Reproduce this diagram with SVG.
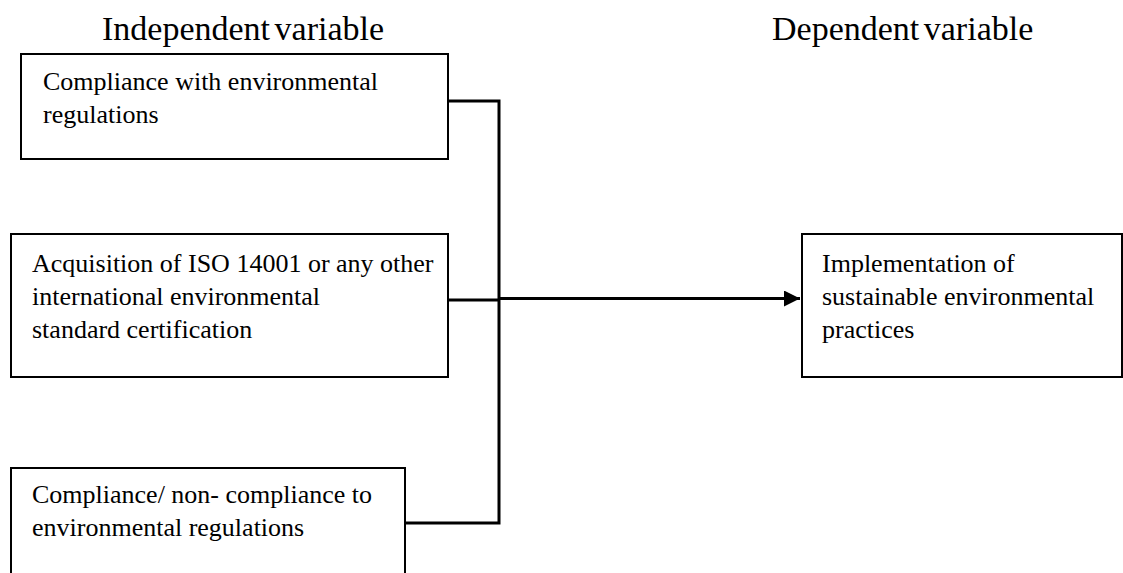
<svg xmlns="http://www.w3.org/2000/svg" width="1123" height="573" viewBox="0 0 1123 573">
<style>
.box{fill:#fff;stroke:#000;stroke-width:2}
.t{font-family:"Liberation Serif","Times New Roman",serif;font-size:26px;fill:#000}
.h{font-family:"Liberation Serif","Times New Roman",serif;font-size:34px;fill:#000;word-spacing:-4px}
.c{fill:none;stroke:#000;stroke-width:3}
</style>
<defs>
<marker id="arr" markerUnits="userSpaceOnUse" markerWidth="18" markerHeight="18" refX="16" refY="8" orient="auto">
<path d="M0,0 L16,8 L0,16 Z" fill="#000"/>
</marker>
</defs>
<rect width="1123" height="573" fill="#fff"/>
<g id="titles">
<text class="h" x="102" y="40">Independent variable</text>
<text class="h" x="772" y="40">Dependent variable</text>
</g>
<g id="connectors">
<polyline class="c" points="448,101 499,101 499,523 405,523"/>
<line class="c" x1="448" y1="300" x2="499" y2="300"/>
<line class="c" x1="499" y1="298.5" x2="800" y2="298.5" marker-end="url(#arr)"/>
</g>
<g id="node1">
<rect class="box" x="21" y="54" width="427" height="105"/>
<text class="t"><tspan x="43" y="90">Compliance with environmental</tspan><tspan x="43" y="123">regulations</tspan></text>
</g>
<g id="node2">
<rect class="box" x="11" y="234" width="437" height="143"/>
<text class="t"><tspan x="32" y="272">Acquisition of ISO 14001 or any other</tspan><tspan x="32" y="305">international environmental</tspan><tspan x="32" y="338">standard certification</tspan></text>
</g>
<g id="node3">
<rect class="box" x="11" y="468" width="394" height="120"/>
<text class="t"><tspan x="32" y="503">Compliance/ non- compliance to</tspan><tspan x="32" y="536">environmental regulations</tspan></text>
</g>
<g id="node4">
<rect class="box" x="802" y="234" width="320" height="143"/>
<text class="t"><tspan x="822" y="272">Implementation of</tspan><tspan x="822" y="305">sustainable environmental</tspan><tspan x="822" y="338">practices</tspan></text>
</g>
</svg>
